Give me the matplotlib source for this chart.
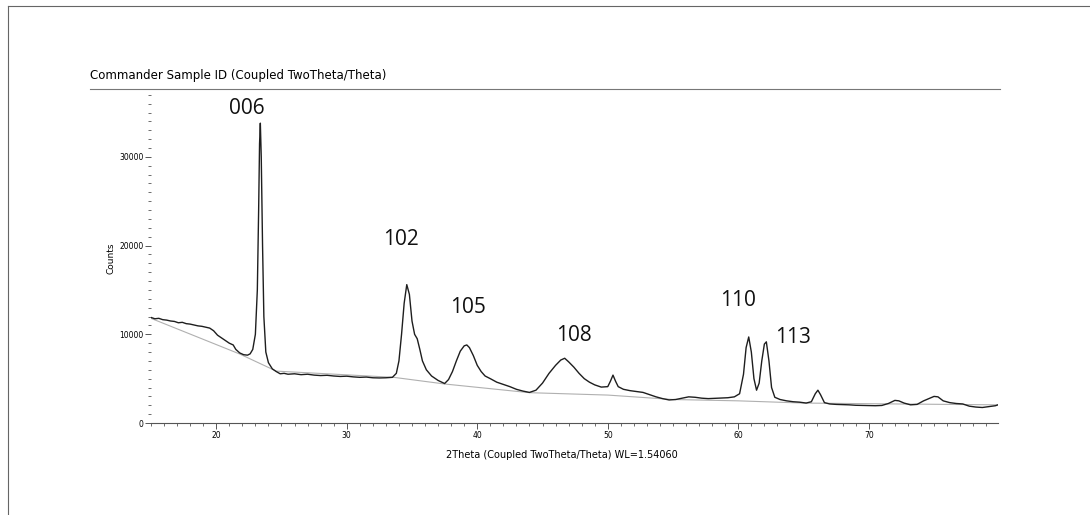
"""
Diffractogramme DRX (Coupled TwoTheta/Theta) avec indexation des pics
"""

import matplotlib.pyplot as plt
from matplotlib.lines import Line2D
from matplotlib.ticker import MultipleLocator

two_theta = [
    15.0, 15.3, 15.6, 15.9, 16.2, 16.5, 16.8, 17.1, 17.4, 17.7,
    18.0, 18.3, 18.6, 18.9, 19.2, 19.5, 19.8, 20.1, 20.4, 20.7,
    21.0, 21.3, 21.5, 21.8, 22.1, 22.4, 22.6, 22.8, 23.0, 23.15,
    23.25, 23.32, 23.38, 23.45, 23.55, 23.65, 23.8, 24.0, 24.3, 24.6,
    24.9, 25.2, 25.5, 26.0, 26.5, 27.0, 27.5, 28.0, 28.5, 29.0,
    29.5, 30.0, 30.5, 31.0, 31.5, 32.0, 32.5, 33.0, 33.5, 33.8,
    34.0, 34.2, 34.4, 34.6, 34.8, 35.0, 35.2, 35.4, 35.6, 35.8,
    36.1, 36.5, 37.0, 37.5, 37.8, 38.1, 38.4, 38.7, 39.0, 39.2,
    39.4, 39.7, 40.0, 40.3, 40.6, 41.0, 41.5, 42.0, 42.5, 43.0,
    43.5, 44.0, 44.5, 45.0, 45.5, 46.0, 46.4, 46.7, 47.0, 47.4,
    47.8, 48.2, 48.6, 49.0, 49.5, 50.0, 50.2, 50.4, 50.6, 50.8,
    51.2, 51.7, 52.2, 52.7, 53.2, 53.7, 54.2, 54.7, 55.2, 55.7,
    56.2, 56.7, 57.2, 57.7, 58.2, 58.7, 59.2, 59.7, 60.1, 60.4,
    60.6, 60.8, 61.0, 61.2, 61.4, 61.6, 61.8, 62.0, 62.15, 62.35,
    62.55, 62.8, 63.2, 63.7, 64.2, 64.7, 65.2, 65.6, 65.9, 66.1,
    66.3, 66.6, 67.0, 67.5, 68.0, 68.5, 69.0, 69.5, 70.0, 70.5,
    71.0, 71.5, 72.0, 72.3, 72.7, 73.2, 73.7, 74.2, 74.6, 75.0,
    75.3, 75.7, 76.2, 76.7, 77.2, 77.7, 78.2, 78.7, 79.2, 79.7,
    79.9,
]
counts = [
    11900, 11750, 11800, 11650, 11600, 11500, 11450, 11300, 11350, 11200,
    11150, 11050, 10950, 10900, 10800, 10700, 10400, 9900, 9600, 9300,
    9000, 8800, 8300, 7900, 7700, 7650, 7800, 8300, 10000, 15000,
    24000, 31500, 33800, 30000, 20000, 12000, 8000, 6800, 6100, 5800,
    5550, 5600, 5500, 5550, 5450, 5500, 5400, 5350, 5380, 5300,
    5250, 5280, 5200, 5150, 5180, 5100, 5080, 5100, 5150, 5600,
    7000, 10000, 13500, 15600, 14500, 11500, 10000, 9500, 8300, 7000,
    6000, 5300, 4800, 4450, 4900, 5800, 7000, 8100, 8700, 8800,
    8500, 7600, 6500, 5800, 5300, 5000, 4600, 4350, 4100, 3800,
    3600, 3450, 3700, 4500, 5600, 6500, 7100, 7300, 6900, 6300,
    5600, 5000, 4600, 4300, 4050, 4100, 4700, 5400, 4700, 4100,
    3800, 3650, 3550, 3450, 3200, 2950, 2750, 2600, 2650, 2800,
    2950, 2900, 2800, 2750, 2780, 2800, 2850, 2950, 3300, 5500,
    8500, 9700, 8000, 5000, 3700, 4500, 7000, 8900, 9150, 7000,
    4000, 2900, 2650, 2500, 2400, 2350, 2250, 2400, 3300, 3700,
    3200, 2300, 2150, 2100, 2080, 2050, 2000, 1980, 1960, 1950,
    1980, 2200, 2550, 2500, 2250, 2050, 2100, 2500, 2750, 3000,
    2950, 2500, 2300, 2200, 2150, 1900, 1800, 1750, 1850, 1950,
    2050,
]

# Ligne de fond (background)
bg_theta = [15.0, 21.8, 24.6, 33.6, 37.5, 44.0, 50.0, 55.0, 60.0, 65.0, 72.0, 79.9]
bg_counts = [11800, 7780, 5850, 5150, 4400, 3420, 3150, 2650, 2500, 2250, 2150, 2050]

# Indices de Miller des pics
peak_labels = ["006", "102", "105", "108", "110", "113"]
label_theta = [22.38, 34.15, 39.29, 47.41, 59.95, 64.17]
label_counts = [35500, 20740, 13020, 9860, 13860, 9690]


def tracer_diffractogramme():
    """Trace le diffractogramme et sauvegarde out.png"""
    fig = plt.figure(figsize=(10.9, 5.15), dpi=100)
    ax = fig.add_axes([0.1385, 0.1786, 0.7771, 0.6374])

    ax.plot(bg_theta, bg_counts, color="#b0b0b0", lw=0.8)
    ax.plot(two_theta, counts, color="#1e1e1e", lw=1.0)

    ax.set_xlim(15, 79.9)
    ax.set_ylim(0, 37000)

    # Axes : seulement l'axe du bas
    for side in ["top", "right", "left"]:
        ax.spines[side].set_visible(False)
    ax.spines["bottom"].set_color("#555555")
    ax.spines["bottom"].set_linewidth(0.8)

    ax.xaxis.set_major_locator(MultipleLocator(10))
    ax.xaxis.set_minor_locator(MultipleLocator(1))
    ax.yaxis.set_major_locator(MultipleLocator(10000))
    ax.yaxis.set_minor_locator(MultipleLocator(1000))
    ax.tick_params(which="major", length=4.5, width=0.7, color="#555555",
                   labelsize=5.5, pad=1)
    ax.tick_params(which="minor", length=2, width=0.6, color="#555555")

    ax.set_xlabel("2Theta (Coupled TwoTheta/Theta) WL=1.54060", fontsize=7)
    ax.xaxis.set_label_coords(0.485, -0.082)
    ax.set_ylabel("Counts", fontsize=6.5)
    ax.yaxis.set_label_coords(-0.042, 0.503)

    # Étiquettes des pics
    for lab, xt, yt in zip(peak_labels, label_theta, label_counts):
        ax.text(xt, yt, lab, ha="center", va="center", fontsize=15,
                family="Open Sans", color="#111111")

    # Titre et filets
    fig.text(0.0826, 0.854, "Commander Sample ID (Coupled TwoTheta/Theta)",
             fontsize=8.5, va="center", ha="left", color="black")
    fig.add_artist(Line2D([0.0826, 0.917], [0.827, 0.827],
                          color="#777777", lw=0.8))
    fig.add_artist(Line2D([0.0073, 1.0], [0.988, 0.988],
                          color="#666666", lw=0.8))
    fig.add_artist(Line2D([0.0073, 0.0073], [0.0, 0.988],
                          color="#666666", lw=0.8))

    fig.savefig("out.png", dpi=100)


if __name__ == "__main__":
    tracer_diffractogramme()
